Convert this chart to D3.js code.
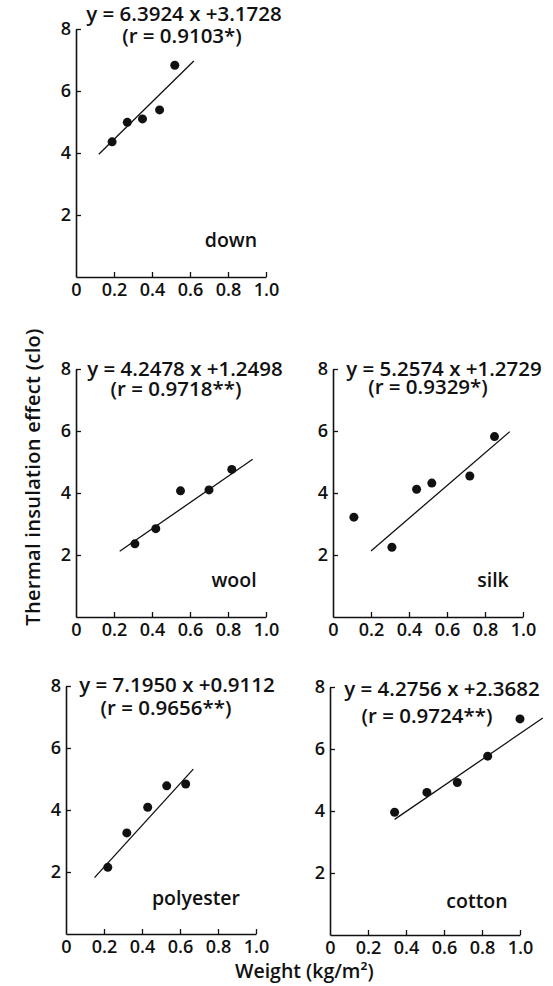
<!DOCTYPE html>
<html lang="en">
<head>
    <meta charset="UTF-8">
    <title>Thermal insulation effect vs weight</title>
    <style>
        body { margin: 0; background: #fff; }
        svg text { font-family: "Open Sans", sans-serif; font-weight: 600; fill: #111; }
    </style>
    <script src="https://d3js.org/d3.v7.min.js"></script>
</head>
<body>
    <div id="chart"></div>
    <script>
        // data
        const materials = ["down", "wool", "silk", "polyester", "cotton"];
        const equations = ["y = 6.3924 x +3.1728", "y = 4.2478 x +1.2498", "y = 5.2574 x +1.2729", "y = 7.1950 x +0.9112", "y = 4.2756 x +2.3682"];
        const rLabels = ["(r = 0.9103*)", "(r = 0.9718**)", "(r = 0.9329*)", "(r = 0.9656**)", "(r = 0.9724**)"];

        const downX = [0.19, 0.27, 0.35, 0.44, 0.52];
        const downY = [4.36, 4.99, 5.10, 5.39, 6.83];
        const woolX = [0.31, 0.42, 0.55, 0.70, 0.82];
        const woolY = [2.36, 2.85, 4.07, 4.10, 4.76];
        const silkX = [0.11, 0.31, 0.44, 0.52, 0.72, 0.85];
        const silkY = [3.22, 2.25, 4.12, 4.32, 4.55, 5.82];
        const polyX = [0.22, 0.32, 0.43, 0.53, 0.63];
        const polyY = [2.15, 3.26, 4.09, 4.78, 4.84];
        const cottonX = [0.34, 0.51, 0.67, 0.83, 1.00];
        const cottonY = [3.96, 4.60, 4.92, 5.77, 6.97];

        // fitted lines as drawn: [x1, y1, x2, y2]
        const downFit = [0.12, 3.96, 0.62, 6.97];
        const woolFit = [0.23, 2.12, 0.93, 5.09];
        const silkFit = [0.20, 2.13, 0.93, 5.98];
        const polyFit = [0.15, 1.82, 0.67, 5.32];
        const cottonFit = [0.34, 3.73, 1.12, 7.00];

        const xTicks = [0, 0.2, 0.4, 0.6, 0.8, 1.0];
        const xTickLabels = ["0", "0.2", "0.4", "0.6", "0.8", "1.0"];
        const yTicks = [2, 4, 6, 8];

        const seriesX = [downX, woolX, silkX, polyX, cottonX];
        const seriesY = [downY, woolY, silkY, polyY, cottonY];
        const fits = [downFit, woolFit, silkFit, polyFit, cottonFit];

        // layout: axis origin, equation [centre x, line1 y, line2 dx, line2 y], label [x, y]
        const W = 553, H = 986, pw = 190, ph = 248;
        const layout = [
            { left: 76,  bottom: 277, eq: [108, -8, -2, 14],   lab: [155, -30] },
            { left: 76,  bottom: 617, eq: [109, 7, -9, 27],    lab: [158, -30] },
            { left: 333, bottom: 617, eq: [111, 7, -16, 25],   lab: [160, -30] },
            { left: 66,  bottom: 934, eq: [111, 6, -11, 29],   lab: [130, -29] },
            { left: 330, bottom: 935, eq: [112, 9, -15, 36],   lab: [147, -27] }
        ];

        const svg = d3.select("#chart").append("svg")
            .attr("width", W).attr("height", H);

        materials.forEach((name, i) => {
            const L = layout[i];
            const x = d3.scaleLinear().domain([0, 1]).range([0, pw]);
            const y = d3.scaleLinear().domain([0, 8]).range([ph, 0]);
            const g = svg.append("g")
                .attr("transform", `translate(${L.left},${L.bottom - ph})`);

            const xAxis = g.append("g")
                .attr("transform", `translate(0,${ph})`)
                .call(d3.axisBottom(x).tickValues(xTicks)
                    .tickFormat((d, k) => xTickLabels[k])
                    .tickSizeInner(-5).tickSizeOuter(0).tickPadding(6));
            const yAxis = g.append("g")
                .call(d3.axisLeft(y).tickValues(yTicks)
                    .tickSizeInner(-5).tickSizeOuter(0).tickPadding(5));

            [xAxis, yAxis].forEach(a => {
                a.select(".domain").attr("stroke", "#111").attr("stroke-width", 1.6);
                a.selectAll(".tick line").attr("stroke", "#111").attr("stroke-width", 1.3);
                a.selectAll("text").attr("font-size", 18)
                    .attr("font-family", "'Open Sans', sans-serif").attr("font-weight", 600);
            });
            xAxis.selectAll(".tick").filter(d => d === 0).select("line").remove();

            const f = fits[i];
            g.append("line")
                .attr("x1", x(f[0])).attr("y1", y(f[1]))
                .attr("x2", x(f[2])).attr("y2", y(f[3]))
                .attr("stroke", "#111").attr("stroke-width", 1.3);

            g.selectAll("circle")
                .data(seriesX[i].map((v, k) => [v, seriesY[i][k]]))
                .enter().append("circle")
                .attr("cx", d => x(d[0]))
                .attr("cy", d => y(d[1]))
                .attr("r", 4.5)
                .attr("fill", "#111");

            g.append("text")
                .attr("x", L.eq[0]).attr("y", L.eq[1])
                .attr("text-anchor", "middle").attr("font-size", 20.5)
                .text(equations[i]);
            g.append("text")
                .attr("x", L.eq[0] + L.eq[2]).attr("y", L.eq[3])
                .attr("text-anchor", "middle").attr("font-size", 20.5)
                .text(rLabels[i]);

            g.append("text")
                .attr("x", L.lab[0]).attr("y", ph + L.lab[1])
                .attr("text-anchor", "middle").attr("font-size", 19.5)
                .text(name);
        });

        svg.append("text")
            .attr("transform", "translate(40,477) rotate(-90)")
            .attr("text-anchor", "middle").attr("font-size", 20)
            .attr("letter-spacing", 0.3)
            .text("Thermal insulation effect (clo)");

        svg.append("text")
            .attr("x", 235).attr("y", 978)
            .attr("font-size", 19.5)
            .text("Weight (kg/m²)");
    </script>
</body>
</html>
